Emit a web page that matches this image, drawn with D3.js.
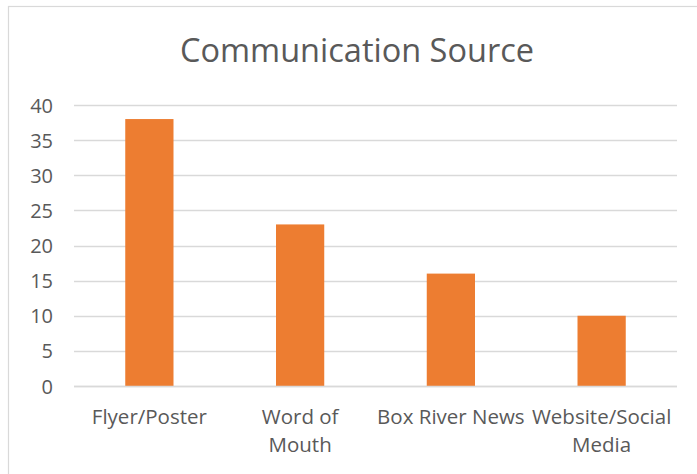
<!DOCTYPE html>
<html>
<head>
<meta charset="utf-8">
<script src="https://cdn.jsdelivr.net/npm/d3@7"></script>
<style>
  html, body { margin: 0; padding: 0; background: #fff; }
  svg { display: block; }
  text { font-family: "Open Sans", "Noto Sans", sans-serif; fill: #595959; }
</style>
</head>
<body>
<script>
const categories = ["Flyer/Poster", "Word of Mouth", "Box River News", "Website/Social Media"];
const categoryLines = [["Flyer/Poster"], ["Word of", "Mouth"], ["Box River News"], ["Website/Social", "Media"]];
const values = [38, 23, 16, 10];
const yTicks = [0, 5, 10, 15, 20, 25, 30, 35, 40];
const title = "Communication Source";

const W = 697, H = 474;
const plot = { left: 74, right: 677, top: 105, bottom: 386 };

const svg = d3.select("body").append("svg").attr("width", W).attr("height", H);

// chart border (extends past right/bottom edges)
svg.append("rect")
  .attr("x", 8.5).attr("y", 6.5)
  .attr("width", 720).attr("height", 500)
  .attr("fill", "#fff").attr("stroke", "#d9d9d9").attr("stroke-width", 1.2);

svg.append("text")
  .attr("x", 357).attr("y", 62)
  .attr("text-anchor", "middle")
  .style("font-size", "32.5px")
  .text(title);

const x = d3.scaleBand().domain(categories).range([plot.left, plot.right]).paddingInner(0.68).paddingOuter(0.34);
const y = d3.scaleLinear().domain([0, 40]).range([plot.bottom, plot.top]);

// gridlines
svg.append("g").selectAll("line").data(yTicks).join("line")
  .attr("x1", plot.left).attr("x2", plot.right)
  .attr("y1", d => Math.round(y(d)) + 0.5).attr("y2", d => Math.round(y(d)) + 0.5)
  .attr("stroke", "#d9d9d9").attr("stroke-width", 1.5);

// y axis labels
const yAxis = d3.axisLeft(y).tickValues(yTicks).tickSize(0).tickPadding(0);
const gy = svg.append("g").attr("transform", `translate(${plot.left - 21},0)`).call(yAxis);
gy.select(".domain").remove();
gy.selectAll("text").style("font-size", "20px").attr("fill", "#595959").attr("dy", "0.35em");

// bars
svg.append("g").selectAll("rect").data(values).join("rect")
  .attr("x", (d, i) => x(categories[i]))
  .attr("width", x.bandwidth())
  .attr("y", d => y(d))
  .attr("height", d => y(0) - y(d))
  .attr("fill", "#ED7D31");

// baseline
svg.append("line")
  .attr("x1", plot.left).attr("x2", plot.right)
  .attr("y1", Math.round(y(0)) + 0.5).attr("y2", Math.round(y(0)) + 0.5)
  .attr("stroke", "#d9d9d9").attr("stroke-width", 1.5);

// x labels
const xl = svg.append("g").selectAll("text").data(categories).join("text")
  .attr("text-anchor", "middle")
  .attr("x", d => x(d) + x.bandwidth() / 2)
  .attr("y", 424)
  .style("font-size", "20.5px");
xl.each(function(d, i) {
  const t = d3.select(this);
  categoryLines[i].forEach((line, j) => {
    t.append("tspan").attr("x", x(d) + x.bandwidth() / 2).attr("dy", j === 0 ? 0 : 28).text(line);
  });
});
</script>
</body>
</html>
